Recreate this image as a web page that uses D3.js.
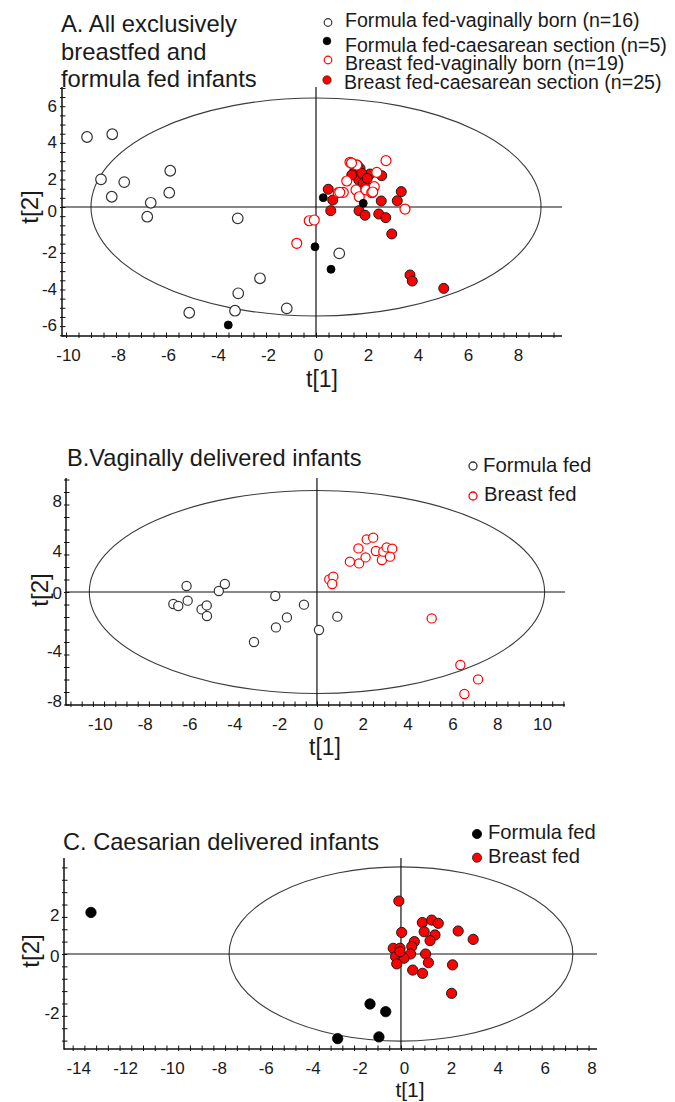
<!DOCTYPE html>
<html>
<head>
<meta charset="utf-8">
<script src="https://cdn.jsdelivr.net/npm/d3@7"></script>
<style>
  html, body { margin: 0; padding: 0; background: #fff; }
  svg { display: block; }
</style>
</head>
<body>
<svg id="chart" width="675" height="1102"></svg>
<script>
// ---------------- DATA ----------------
// Panel A: [t1, t2]
const aFormulaVaginal = [[-9.16,3.82],[-8.15,3.97],[-8.6,1.51],[-7.67,1.36],[-5.83,1.98],[-8.17,0.56],[-6.61,0.23],[-5.87,0.78],[-6.75,-0.53],[-3.13,-0.62],[-2.24,-3.89],[-3.11,-4.71],[-3.24,-5.66],[-5.07,-5.77],[-1.17,-5.53],[0.93,-2.53]];
const aFormulaCaesarean = [[-3.51,-6.44],[-0.04,-2.17],[0.6,-3.4],[0.29,0.51],[1.89,0.2]];
const aBreastVaginal = [[-0.77,-1.98],[-0.27,-0.75],[-0.07,-0.71],[0.89,0.78],[1.09,0.80],[1.23,1.42],[1.36,2.44],[1.63,2.29],[1.6,0.93],[1.73,0.56],[2.0,0.93],[2.23,0.78],[2.33,1.11],[2.43,1.89],[2.8,2.53],[3.56,-0.11],[1.42,2.4],[0.95,0.8],[2.27,0.82]];
const aBreastCaesarean = [[0.49,0.97],[0.67,0.38],[0.59,-0.2],[1.72,-0.2],[1.96,-0.45],[2.51,-0.38],[2.79,-0.58],[2.61,0.33],[3.03,-1.47],[3.25,0.34],[3.41,0.84],[3.76,-3.71],[3.85,-4.04],[5.11,-4.44],[1.71,1.47],[1.56,2.02],[1.76,2.11],[1.89,1.29],[2.16,1.8],[2.63,1.71],[1.65,2.29],[2.0,1.11],[1.43,1.75],[1.83,1.84],[2.05,1.56]];
const aLegendLabels = ["Formula fed-vaginally born (n=16)","Formula fed-caesarean section (n=5)","Breast fed-vaginally born (n=19)","Breast fed-caesarean section (n=25)"];
const aTitle = ["A. All exclusively","breastfed and","formula fed infants"];
const aXTicks = [-10,-8,-6,-4,-2,0,2,4,6,8];
const aYTicks = [-6,-4,-2,0,2,4,6];
const aXDomain = [-10.16, 9.84];
const aYDomain = [-7.04, 6.55];
const aEllipse = [9.0, 5.95];

// Panel B
const bFormula = [[-6.41,-0.96],[-6.19,-1.12],[-5.82,0.48],[-5.77,-0.69],[-5.15,-1.39],[-4.92,-1.07],[-4.91,-1.92],[-4.38,0.08],[-4.11,0.64],[-2.81,-4.0],[-1.86,-0.32],[-1.83,-2.83],[-1.34,-2.03],[-0.58,-1.01],[0.09,-3.04],[0.91,-1.97]];
const bBreast = [[0.55,1.01],[0.73,1.23],[0.68,0.64],[1.47,2.43],[1.85,3.49],[1.88,2.29],[2.17,2.77],[2.22,4.21],[2.51,4.35],[2.63,3.28],[2.9,2.56],[2.96,3.23],[3.11,3.57],[3.36,3.47],[3.26,2.83],[5.12,-2.11],[6.4,-5.84],[7.19,-6.99],[6.58,-8.16]];
const bLegendLabels = ["Formula fed","Breast fed"];
const bTitle = ["B.Vaginally delivered infants"];
const bXTicks = [-10,-8,-6,-4,-2,0,2,4,6,8,10];
const bYTicks = [-8,-4,0,4,8];
const bXDomain = [-11.2, 11.07];
const bYDomain = [-9.04, 9.12];
const bEllipse = [10.16, 8.12];

// Panel C
const cFormula = [[-13.22,1.68],[-2.7,-3.42],[-1.32,-2.02],[-0.65,-2.33],[-0.94,-3.35]];
const cBreast = [[-0.09,2.14],[0.91,1.27],[1.31,1.37],[1.59,1.24],[0.99,0.9],[1.45,0.77],[0.03,0.87],[2.44,0.93],[3.08,0.59],[1.24,0.54],[0.57,0.5],[0.46,0.3],[-0.33,0.23],[-0.04,0.23],[0.41,0.0],[-0.23,-0.11],[0.13,-0.17],[1.05,0.0],[-0.18,-0.4],[1.17,-0.35],[0.5,-0.65],[0.92,-0.78],[2.2,-0.44],[2.16,-1.59],[-0.04,0.09]];
const cLegendLabels = ["Formula fed","Breast fed"];
const cTitle = ["C. Caesarian delivered infants"];
const cXTicks = [-14,-12,-10,-8,-6,-4,-2,0,2,4,6,8];
const cYTicks = [-2,0,2];
const cXDomain = [-14.37, 8.36];
const cYDomain = [-3.84, 3.88];
const cEllipse = [7.33, 3.52];

// ---------------- STYLES ----------------
const FONT = "'Liberation Sans', Arial, Helvetica, sans-serif";
const TXT = "#1a1a1a";
const RED = "#ff0000";
const sOpenBlack = {fill:"#fff", stroke:"#333", sw:1.2};
const sFillBlack = {fill:"#000", stroke:"#000", sw:0.8};
const sOpenRed = {fill:"#fff", stroke:RED, sw:1.2};
const sFillRed = {fill:RED, stroke:"#1a1a1a", sw:1.0};

const svg = d3.select("#chart");
svg.append("rect").attr("width",675).attr("height",1102).attr("fill","#fff");

function minorValues(domain, step) {
  const i0 = Math.ceil(domain[0]/step - 1e-9), i1 = Math.floor(domain[1]/step + 1e-9);
  return d3.range(i0, i1+1).map(i => +(i*step).toFixed(6));
}

function drawPanel(p) {
  const x = d3.scaleLinear().domain(p.xDomain).range([p.box.left, p.box.right]);
  const y = d3.scaleLinear().domain(p.yDomain).range([p.box.bottom, p.box.top]);
  const g = svg.append("g");

  g.append("ellipse")
    .attr("cx", x(0)).attr("cy", y(0))
    .attr("rx", x(p.ellipse[0]) - x(0)).attr("ry", y(0) - y(p.ellipse[1]))
    .attr("fill","none").attr("stroke","#3c3c3c").attr("stroke-width",1.1);

  g.append("line").attr("x1", p.box.left).attr("x2", p.box.right).attr("y1", y(0)).attr("y2", y(0))
    .attr("stroke","#111").attr("stroke-width",1.2);
  g.append("line").attr("x1", x(0)).attr("x2", x(0)).attr("y1", p.box.top).attr("y2", p.box.bottom)
    .attr("stroke","#111").attr("stroke-width",1.2);

  const mx = minorValues(p.xDomain, p.xMinor), my = minorValues(p.yDomain, p.yMinor);
  const tickStyle = sel => { sel.select(".domain").remove(); sel.selectAll("line").attr("stroke","#111").attr("stroke-width",1); };
  g.append("g").attr("transform",`translate(0,${p.box.bottom})`)
    .call(d3.axisBottom(x).tickValues(mx).tickSize(-3.5).tickFormat("")).call(tickStyle);
  g.append("g").attr("transform",`translate(0,${p.box.bottom})`)
    .call(d3.axisBottom(x).tickValues(mx).tickSize(2).tickFormat("")).call(tickStyle);
  g.append("g").attr("transform",`translate(${p.box.left},0)`)
    .call(d3.axisLeft(y).tickValues(my).tickSize(-3.5).tickFormat("")).call(tickStyle);
  g.append("g").attr("transform",`translate(${p.box.left},0)`)
    .call(d3.axisLeft(y).tickValues(my).tickSize(2).tickFormat("")).call(tickStyle);

  const xl = g.append("g").attr("transform",`translate(0,${p.box.bottom})`)
    .call(d3.axisBottom(x).tickValues(p.xTicks).tickSize(0).tickFormat(d => String(d)));
  xl.select(".domain").remove();
  xl.attr("font-family", FONT).attr("font-size", 17);
  xl.selectAll("text").attr("fill", TXT).attr("y", 25).attr("dy", null)
    .attr("dx", d => d < 0 ? p.xNegDx : p.xPosDx);

  const yl = g.append("g").attr("transform",`translate(${p.box.left},0)`)
    .call(d3.axisLeft(y).tickValues(p.yTicks).tickSize(0).tickFormat(d => String(d)));
  yl.select(".domain").remove();
  yl.attr("font-family", FONT).attr("font-size", 17);
  yl.selectAll("text").attr("fill", TXT).attr("x", -p.yGap).attr("dy", null)
    .attr("y", d => (d === 0 ? p.yZeroDy : p.yDy) + 6);

  g.append("line").attr("x1", p.box.left).attr("x2", p.box.left).attr("y1", p.box.top).attr("y2", p.box.bottom + 0.75)
    .attr("stroke","#111").attr("stroke-width",1.5);
  g.append("line").attr("x1", p.box.left).attr("x2", p.box.right).attr("y1", p.box.bottom).attr("y2", p.box.bottom)
    .attr("stroke","#111").attr("stroke-width",1.5);

  p.series.forEach(s => {
    g.append("g").selectAll("circle").data(s.values).join("circle")
      .attr("cx", d => x(d[0])).attr("cy", d => y(d[1])).attr("r", s.r)
      .attr("fill", s.style.fill).attr("stroke", s.style.stroke).attr("stroke-width", s.style.sw);
  });

  g.append("text").attr("x", p.t1[0]).attr("y", p.t1[1]).attr("text-anchor","middle")
    .attr("font-family", FONT).attr("font-size", p.t1Size).attr("fill", TXT).text("t[1]");
  g.append("text").attr("transform", `translate(${p.t2[0]},${p.t2[1]}) rotate(-90)`)
    .attr("text-anchor","middle").attr("dominant-baseline","central")
    .attr("font-family", FONT).attr("font-size", 24).attr("fill", TXT).text("t[2]");

  const tt = g.append("text").attr("font-family", FONT).attr("font-size", p.titleSize).attr("fill", TXT);
  p.title.forEach((line, i) => tt.append("tspan").attr("x", p.titlePos[0]).attr("y", p.titlePos[1] + i*p.titleLead).text(line));

  p.legend.forEach((e, i) => {
    g.append("circle").attr("cx", e.m[0]).attr("cy", e.m[1]).attr("r", e.r)
      .attr("fill", e.style.fill).attr("stroke", e.style.stroke).attr("stroke-width", e.style.sw);
    g.append("text").attr("x", e.t[0]).attr("y", e.t[1]).attr("font-family", FONT)
      .attr("font-size", p.legendSize).attr("fill", TXT).text(p.legendLabels[i]);
  });
}

// ---------------- PANELS ----------------
drawPanel({
  box:{left:62, right:562, top:87, bottom:336},
  xDomain:aXDomain, yDomain:aYDomain, xTicks:aXTicks, yTicks:aYTicks, xMinor:0.5, yMinor:0.5,
  ellipse:aEllipse, xNegDx:2, xPosDx:2, yGap:5, yDy:8, yZeroDy:3,
  series:[
    {values:aFormulaVaginal, style:sOpenBlack, r:5.3},
    {values:aBreastCaesarean, style:sFillRed, r:5},
    {values:aBreastVaginal, style:sOpenRed, r:5},
    {values:aFormulaCaesarean, style:sFillBlack, r:4}
  ],
  t1:[322,387], t1Size:23, t2:[29,207],
  title:aTitle, titlePos:[61,32], titleLead:27.5, titleSize:23.8,
  legendLabels:aLegendLabels, legendSize:19.6,
  legend:[
    {m:[328,22.5], r:3.8, style:sOpenBlack, t:[345,26.7]},
    {m:[327,41], r:3.8, style:sFillBlack, t:[345,51.7]},
    {m:[328,60], r:3.8, style:sOpenRed, t:[345,70]},
    {m:[327,80], r:4.2, style:{fill:RED, stroke:"#400", sw:0.6}, t:[344,89.3]}
  ]
});

drawPanel({
  box:{left:66, right:565, top:478, bottom:705},
  xDomain:bXDomain, yDomain:bYDomain, xTicks:bXTicks, yTicks:bYTicks, xMinor:0.5, yMinor:1,
  ellipse:bEllipse, xNegDx:7, xPosDx:1, yGap:4, yDy:8, yZeroDy:0,
  series:[
    {values:bFormula, style:sOpenBlack, r:4.6},
    {values:bBreast, style:sOpenRed, r:4.6}
  ],
  t1:[325,755], t1Size:23, t2:[39,590],
  title:bTitle, titlePos:[67,466], titleLead:0, titleSize:23.6,
  legendLabels:bLegendLabels, legendSize:20.3,
  legend:[
    {m:[473,466], r:4, style:{fill:"#fff", stroke:"#333", sw:1.3}, t:[483,472.3]},
    {m:[473,496], r:4, style:{fill:"#fff", stroke:RED, sw:1.3}, t:[484,501]}
  ]
});

drawPanel({
  box:{left:64, right:597, top:858, bottom:1049},
  xDomain:cXDomain, yDomain:cYDomain, xTicks:cXTicks, yTicks:cYTicks, xMinor:0.5, yMinor:0.5,
  ellipse:cEllipse, xNegDx:5.5, xPosDx:3, yGap:4.5, yDy:9.5, yZeroDy:2,
  series:[
    {values:cFormula, style:sFillBlack, r:5.2},
    {values:cBreast, style:sFillRed, r:5.1}
  ],
  t1:[410,1097], t1Size:21, t2:[30,951],
  title:cTitle, titlePos:[63,850], titleLead:0, titleSize:23.6,
  legendLabels:cLegendLabels, legendSize:20.2,
  legend:[
    {m:[477,834], r:4.6, style:sFillBlack, t:[488,839.3]},
    {m:[477,857.7], r:4.6, style:{fill:RED, stroke:"#222", sw:0.8}, t:[488,862.7]}
  ]
});
</script>
</body>
</html>
